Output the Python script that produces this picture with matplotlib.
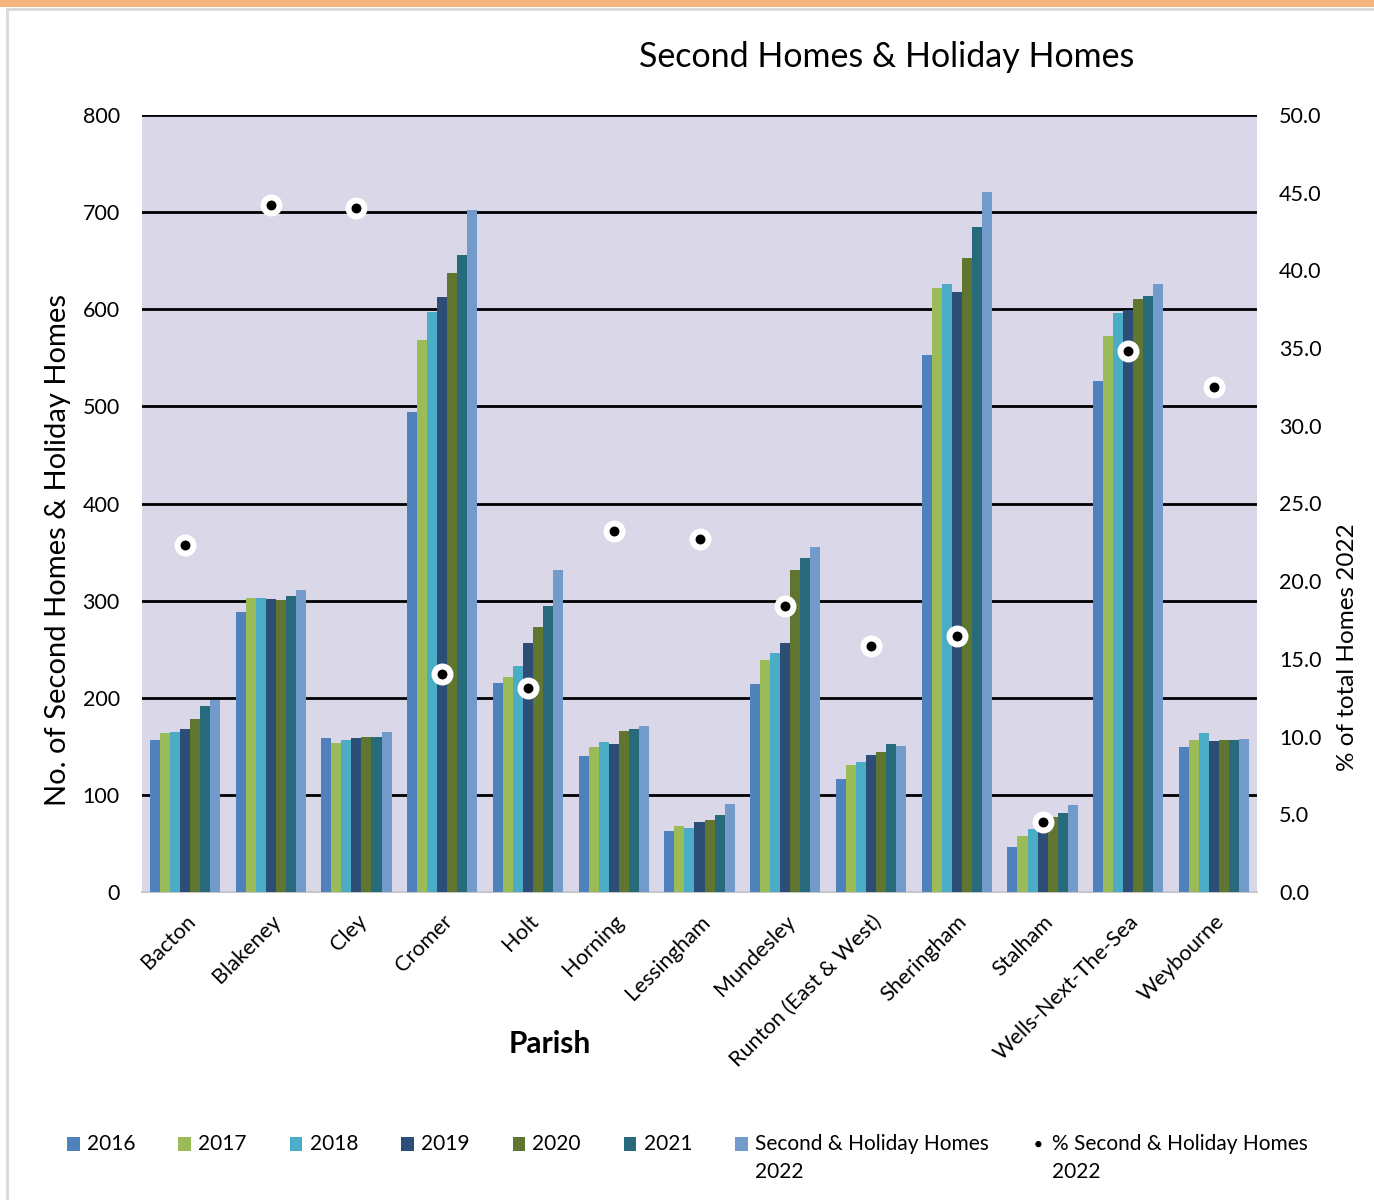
import matplotlib
matplotlib.use("Agg")
import matplotlib.pyplot as plt
import numpy as np
from matplotlib.patches import Rectangle, Ellipse, Patch
from matplotlib.lines import Line2D
from matplotlib.legend_handler import HandlerPatch

parishes = ["Bacton", "Blakeney", "Cley", "Cromer", "Holt", "Horning", "Lessingham",
            "Mundesley", "Runton (East & West)", "Sheringham", "Stalham",
            "Wells-Next-The-Sea", "Weybourne"]
v2016 = [157, 288, 159, 494, 215, 140, 63, 214, 116, 553, 46, 526, 149]
v2017 = [164, 303, 153, 568, 221, 149, 68, 239, 131, 622, 58, 572, 156]
v2018 = [165, 303, 156, 597, 233, 154, 66, 246, 134, 626, 65, 596, 164]
v2019 = [168, 302, 159, 613, 256, 152, 72, 256, 141, 618, 70, 599, 155]
v2020 = [178, 301, 160, 637, 273, 166, 74, 332, 144, 653, 77, 611, 156]
v2021 = [191, 305, 160, 656, 294, 168, 79, 344, 152, 685, 81, 614, 157]
v2022 = [198, 311, 165, 702, 332, 171, 91, 355, 150, 721, 90, 626, 158]
pct2022 = [22.3, 44.2, 44.0, 14.0, 13.1, 23.2, 22.7, 18.4, 15.8, 16.5, 4.5, 34.8, 32.5]

series_labels = ["2016", "2017", "2018", "2019", "2020", "2021", "Second & Holiday Homes\n2022"]
pct_label = "% Second & Holiday Homes\n2022"
colors = ["#4F81BD", "#9BBB59", "#4BACC6", "#2C4D75", "#5F7530", "#276A7C", "#729ACA"]

plt.rcParams['font.family'] = ['Lato', 'DejaVu Sans']

fig = plt.figure(figsize=(13.74, 12.0), dpi=100)

# frame decorations
fig.patches.append(Rectangle((0, 1 - 7/1200), 1, 7/1200, transform=fig.transFigure,
                             facecolor="#F4B67E", edgecolor="none", zorder=0))
fig.add_artist(Line2D([7/1374, 7/1374], [0, 1 - 9/1200], transform=fig.transFigure,
                      color="#D9D9D9", lw=2))
fig.add_artist(Line2D([7/1374, 1], [1 - 9/1200, 1 - 9/1200], transform=fig.transFigure,
                      color="#D9D9D9", lw=2))

ax = fig.add_axes([142/1374, 1 - 892/1200, 1115/1374, 777/1200])
ax.set_facecolor("#D9D7E8")
ax2 = ax.twinx()

x = np.arange(len(parishes))
series = [v2016, v2017, v2018, v2019, v2020, v2021, v2022]
bw = 0.117
for i, (vals, c, lab) in enumerate(zip(series, colors, series_labels)):
    ax.bar(x + (i - 3) * bw, vals, width=bw, color=c, label=lab, zorder=3,
           edgecolor="none")

ax.set_ylim(0, 800)
ax.set_xlim(-0.5, len(parishes) - 0.5)
ax.set_yticks(np.arange(0, 801, 100))
ax.yaxis.grid(True, color="black", lw=2, zorder=1)
ax.set_axisbelow(True)
for s in ["top", "left", "right"]:
    ax.spines[s].set_visible(False)
ax.spines["bottom"].set_color("#C8C8C8")
ax.spines["bottom"].set_linewidth(1.5)
ax.tick_params(axis="y", length=0, labelsize=15.5, pad=16)
ax.set_xticks(x)
ax.set_xticklabels(parishes, rotation=45, ha="right", rotation_mode="anchor", fontsize=15.6)
ax.tick_params(axis="x", length=0, pad=14)
ax.set_ylabel("No. of Second Homes & Holiday Homes", fontsize=21)
ax.yaxis.set_label_coords(-0.064, 0.44)
ax.set_xlabel("Parish", fontsize=21.5, fontweight="bold")
ax.xaxis.set_label_coords(0.366, -0.177)

ax2.plot(x, pct2022, linestyle="none", marker="o", markersize=11.5,
         markerfacecolor="black", markeredgecolor="white", markeredgewidth=4.3, zorder=5)
ax2.set_ylim(0, 50)
ax2.set_yticks(np.arange(0, 50.1, 5))
ax2.set_yticklabels([f"{v:.1f}" for v in np.arange(0, 50.1, 5)])
ax2.tick_params(axis="y", length=0, labelsize=15.5, pad=16)
for s in ["top", "left", "right", "bottom"]:
    ax2.spines[s].set_visible(False)
ax2.set_ylabel("% of total Homes 2022", fontsize=17.5)
ax2.yaxis.set_label_coords(1.0717, 0.315)

fig.text(887/1374, 1 - 57/1200, "Second Homes & Holiday Homes", fontsize=24.5,
         ha="center", va="center")


def top_rect(legend, orig_handle, xdescent, ydescent, width, height, fontsize):
    h = 0.68 * fontsize
    cy = -ydescent + height / 2 + 0.7 * fontsize
    return Rectangle((-xdescent, cy - h / 2), width, h)


def top_dot(legend, orig_handle, xdescent, ydescent, width, height, fontsize):
    d = 0.3 * fontsize
    cy = -ydescent + height / 2 + 0.7 * fontsize
    return Ellipse((-xdescent + width / 2, cy), d, d)


handles = [Patch(facecolor=c, edgecolor="none") for c in colors]
dot_handle = Patch(facecolor="black", edgecolor="none")
handles.append(dot_handle)
labels = [l if "\n" in l else l + "\n " for l in series_labels] + [pct_label]
hmap = {h: HandlerPatch(patch_func=top_rect) for h in handles[:-1]}
hmap[dot_handle] = HandlerPatch(patch_func=top_dot)
leg = fig.legend(handles, labels, loc="upper left", bbox_to_anchor=(67/1374, 1 - 1134/1200),
                 ncol=8, frameon=False, fontsize=15, handlelength=0.6, handleheight=0.7,
                 handletextpad=0.35, columnspacing=2.07, borderaxespad=0, borderpad=0,
                 handler_map=hmap)
for t in leg.get_texts():
    t.set_linespacing(1.5)

fig.savefig("out.png", dpi=100)
